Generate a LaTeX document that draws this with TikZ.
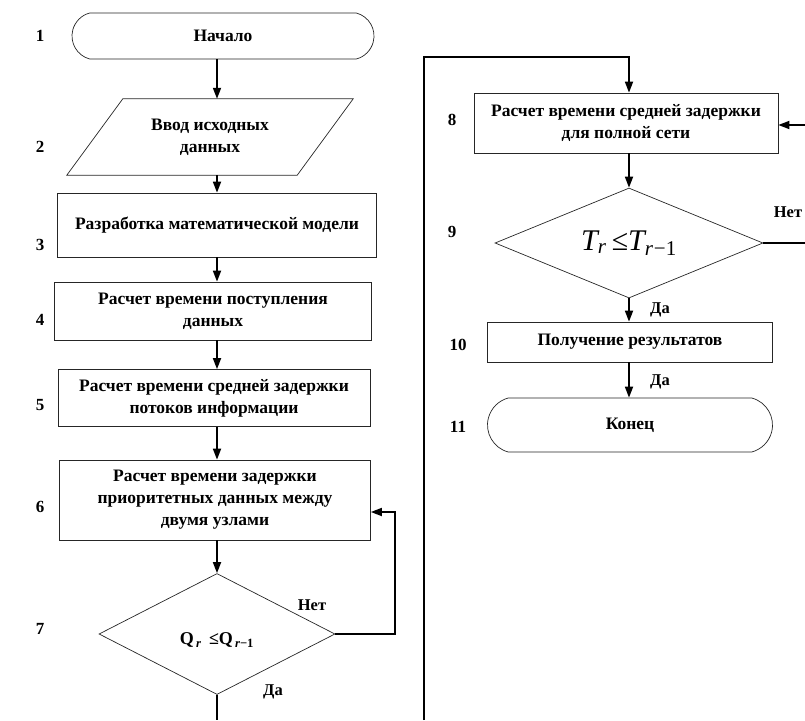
\documentclass[tikz,border=0pt]{standalone}
\usepackage{fontspec}
\setmainfont{Liberation Serif}
\usetikzlibrary{shapes.geometric,shapes.misc,arrows.meta}
\begin{document}
\begin{tikzpicture}[x=1pt,y=-1pt,
  txt/.style={font=\bfseries\fontsize{17.5}{22}\selectfont, align=center},
  box/.style={txt, draw=black!85, line width=0.7pt, inner sep=0pt},
  rectbox/.style={box, rectangle},
  term/.style={box, rounded rectangle, rounded rectangle arc length=150},
  decision/.style={box, diamond},
  boxline/.style={draw=black!85, line width=0.7pt},
  wire/.style={line width=1.7pt},
  arr/.style={wire, -{Triangle[length=11pt,width=8pt]}},
  num/.style={font=\bfseries\fontsize{17}{20}\selectfont},
  lbl/.style={font=\bfseries\fontsize{16.5}{19}\selectfont}]
\useasboundingbox (0,0) rectangle (805,720);

% column guides for the vertical connectors
\coordinate (colL) at (217,0);
\coordinate (colR) at (629,0);

% left column
\node[term, minimum width=302pt, minimum height=46pt] (n1) at (223,36) {Начало};
\node[txt, inner sep=0pt, minimum width=286pt, minimum height=76pt] (n2) at (210,137) {Ввод исходных\\данных};
\draw[boxline] ([xshift=56pt]n2.north west) -- (n2.north east)
  -- ([xshift=-56pt]n2.south east) -- (n2.south west) -- cycle;
\node[rectbox, minimum width=319pt, minimum height=64pt] (n3) at (217,225) {Разработка математической модели};
\node[rectbox, minimum width=317pt, minimum height=58pt] (n4) at (213,311) {Расчет времени поступления\\данных};
\node[rectbox, minimum width=312pt, minimum height=57pt] (n5) at (214,398) {Расчет времени средней задержки\\потоков информации};
\node[rectbox, minimum width=311pt, minimum height=80pt] (n6) at (215,500) {Расчет времени задержки\\приоритетных данных между\\двумя узлами};
\node[decision, minimum width=236pt, minimum height=121pt] (n7) at (217,634) {};
\node[font=\bfseries\fontsize{18}{20}\selectfont] (q7) at (217,640) {Q\textsubscript{\,\textit{r}}\, ≤Q\textsubscript{\,\textit{r}−1}};

% right column
\node[rectbox, minimum width=304pt, minimum height=60pt] (n8) at (626,123) {Расчет времени средней задержки\\для полной сети};
\node[decision, minimum width=268pt, minimum height=110pt] (n9) at (629,243) {};
\node[font=\fontsize{30}{32}\selectfont\itshape] (t9) at (629,243) {T\textsubscript{r}\,≤T\textsubscript{r\kern1pt\upshape −1}};
\node[rectbox, minimum width=285pt, minimum height=40pt] (n10) at (630,342) {Получение результатов};
\node[term, minimum width=285pt, minimum height=54pt] (n11) at (630,425) {Конец};

% step numbers
\node[num] (k1) at (40,36) {1};
\node[num] (k2) at (40,147) {2};
\node[num] (k3) at (40,245) {3};
\node[num] (k4) at (40,320) {4};
\node[num] (k5) at (40,405) {5};
\node[num] (k6) at (40,507) {6};
\node[num] (k7) at (40,629) {7};
\node[num] (k8) at (452,120) {8};
\node[num] (k9) at (452,232) {9};
\node[num] (k10) at (458,345) {10};
\node[num] (k11) at (458,427) {11};

% left column flow
\draw[arr] (colL |- n1.south) -- (colL |- n2.north);
\draw[arr] (colL |- n2.south) -- (colL |- n3.north);
\draw[arr] (colL |- n3.south) -- (colL |- n4.north);
\draw[arr] (colL |- n4.south) -- (colL |- n5.north);
\draw[arr] (colL |- n5.south) -- (colL |- n6.north);
\draw[arr] (colL |- n6.south) -- (n7.north);

% loop back from decision 7
\coordinate (c7) at (395,512);
\draw[arr] (n7.east) -| (c7) -- (c7 -| n6.east);
\node[lbl] (no7) at (312,605) {Нет};

% exit of decision 7 and transfer to the right column
\coordinate (c7b) at (217,720);
\draw[wire] (n7.south) -- (c7b);
\node[lbl] (yes7) at (273,692) {Да};
\coordinate (c8a) at (424,720);
\coordinate (c8b) at (424,57);
\draw[arr] (c8a) -- (c8b) -- (colR |- c8b) -- (colR |- n8.north);

% right column flow
\draw[arr] (colR |- n8.south) -- (n9.north);
\coordinate (c9) at (805,243);
\draw[wire] (n9.east) -- (c9);
\node[lbl] (no9) at (788,212) {Нет};
\coordinate (c8r) at (805,125);
\draw[arr] (c8r) -- (c8r -| n8.east);
\draw[arr] (n9.south) -- (colR |- n10.north);
\node[lbl] (yes9) at (660,310) {Да};
\draw[arr] (colR |- n10.south) -- (colR |- n11.north);
\node[lbl] (yes10) at (660,382) {Да};
\end{tikzpicture}
\end{document}
